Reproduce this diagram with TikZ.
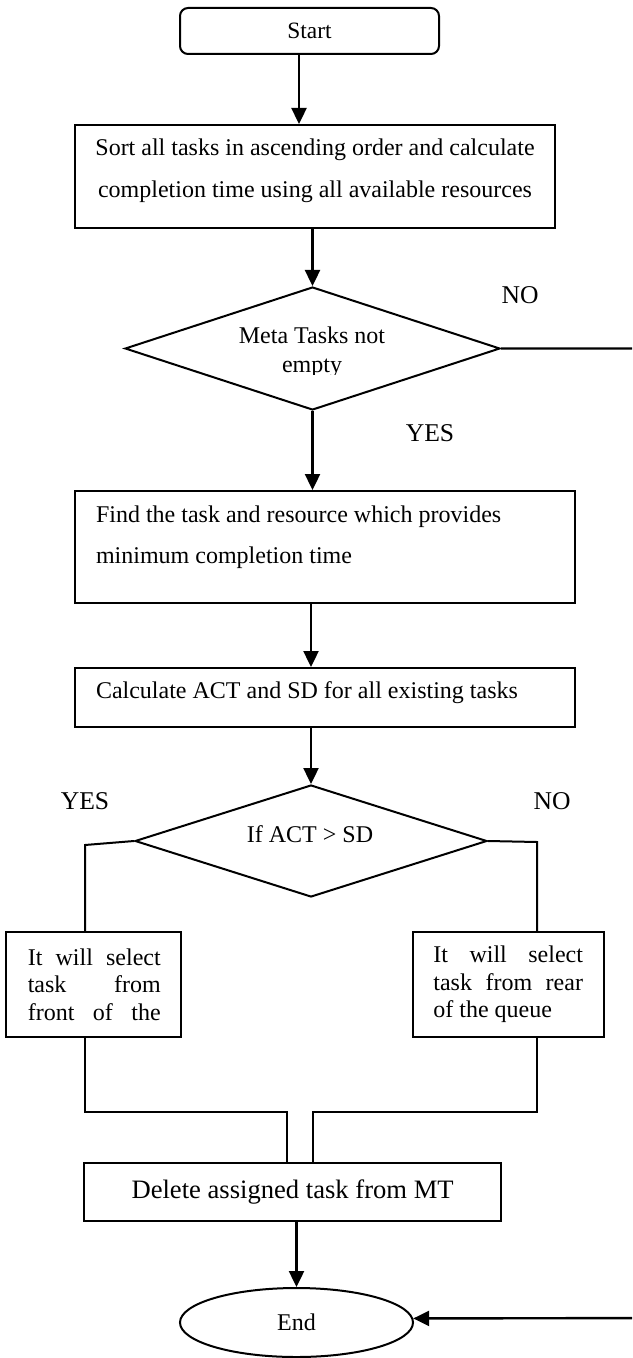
\documentclass[tikz,border=0pt]{standalone}
\usepackage{fontspec}
\setmainfont{Liberation Serif}
\usetikzlibrary{shapes.geometric,arrows.meta}
\begin{document}
\begin{tikzpicture}[x=0.5pt,y=-0.5pt,
  shapeline/.style={draw=black, line width=1pt},
  boxnode/.style={shapeline, rectangle, inner sep=0pt},
  txt/.style={inner sep=0pt, font=\fontsize{12}{14.4}\selectfont},
  conn/.style={line width=1.2pt},
  arr/.style={conn, -{Triangle[length=8pt,width=7.5pt]}},
  lbl/.style={inner sep=0pt, font=\fontsize{12.8}{15}\selectfont}]
\useasboundingbox (0,0) rectangle (632,1358);
\clip (0,0) rectangle (632,1358);

% Start
\node[boxnode, rounded corners=4pt, minimum width=129.5pt, minimum height=23pt,
      font=\fontsize{11.7}{14}\selectfont] (start) at (309.5,31) {Start};

% Sort box
\node[boxnode, minimum width=240pt, minimum height=51.5pt] (sort) at (315,176.5) {};
\node[txt, align=center, font=\fontsize{12}{21}\selectfont] (sorttxt) at (315,171)
  {Sort all tasks in ascending order and calculate\\completion time using all available resources};

% Decision 1
\node[shapeline, diamond, minimum width=187.5pt, minimum height=61.5pt, inner sep=0pt] (d1) at (312.5,348.5) {};
\begin{scope}
\clip (140,318) rectangle (485,374);
\node[txt, align=center, font=\fontsize{12}{14.5}\selectfont] (d1txt) at (312,352.5) {Meta Tasks not\\empty};
\end{scope}
\node[lbl] (no1) at (520,295) {NO};
\node[lbl] (yes1) at (430,433) {YES};

% Find box
\node[boxnode, minimum width=250pt, minimum height=56pt] (find) at (325,547) {};
\node[txt, align=left, anchor=west, font=\fontsize{12}{20.5}\selectfont] (findtxt) at (95.6,537.5)
  {Find the task and resource which provides\\minimum completion time};

% Calc box
\node[boxnode, minimum width=250pt, minimum height=29.5pt] (calc) at (325,697.5) {};
\node[txt, anchor=west] (calctxt) at (95.6,693) {Calculate ACT and SD for all existing tasks};

% Decision 2
\node[shapeline, diamond, minimum width=176pt, minimum height=56pt, inner sep=0pt] (d2) at (311,841) {};
\node[txt] (d2txt) at (310,834) {If ACT > SD};
\node[lbl] (yes2) at (85,801) {YES};
\node[lbl] (no2) at (552,801) {NO};

% Branch boxes
\node[boxnode, minimum width=87.5pt, minimum height=52.5pt] (lbox) at (93.5,984.5) {};
\node[txt, align=left, anchor=west, font=\fontsize{12}{13.75}\selectfont] (ltxt) at (27.4,984.5)
  {\makebox[66.5pt][s]{It will select}\\\makebox[66.5pt][s]{task from}\\\makebox[66.5pt][s]{front of the}};
\node[boxnode, minimum width=95.5pt, minimum height=52.5pt] (rbox) at (508,984.5) {};
\node[txt, align=left, anchor=west, font=\fontsize{12}{13.75}\selectfont] (rtxt) at (433,984.5)
  {\makebox[74.8pt][s]{It will select}\\\makebox[74.8pt][s]{task from rear}\\of the queue};

% Delete box
\node[boxnode, minimum width=208.4pt, minimum height=29pt, font=\fontsize{13.3}{16}\selectfont] (del) at (292.6,1192) {Delete assigned task from MT};

% End
\node[shapeline, ellipse, minimum width=116.5pt, minimum height=34.5pt, inner sep=0pt,
      font=\fontsize{12}{14.4}\selectfont] (end) at (296.5,1322.5) {End};

% helper coordinates
\coordinate (lc) at (85,845);
\coordinate (rc) at (537,842);
\coordinate (lm) at (85,1112);
\coordinate (lm2) at (287,1112);
\coordinate (rm) at (537,1112);
\coordinate (rm2) at (313,1112);
\coordinate (ret) at (680,1318);

% connectors
\draw[arr] ([xshift=-5.25pt]start.south) -- ([xshift=-5.25pt]start.south |- sort.north);
\draw[arr] (d1.north |- sort.south) -- (d1.north);
\draw[arr] (d1.south) -- (d1.south |- find.north);
\draw[arr] ([xshift=-7pt]find.south) -- ([xshift=-7pt]find.south |- calc.north);
\draw[arr] (d2.north |- calc.south) -- (d2.north);
\draw[shapeline] (d2.west) -- (lc) -- (lc |- lbox.north);
\draw[shapeline] (d2.east) -- (rc) -- (rc |- rbox.north);
\draw[shapeline] (lm |- lbox.south) -- (lm) -- (lm2) -- (lm2 |- del.north);
\draw[shapeline] (rm |- rbox.south) -- (rm) -- (rm2) -- (rm2 |- del.north);
\draw[arr] (end.north |- del.south) -- (end.north);
\draw[arr] (d1.east) -- (d1.east -| ret) -- (ret) -- (end.2.5);
\end{tikzpicture}
\end{document}
